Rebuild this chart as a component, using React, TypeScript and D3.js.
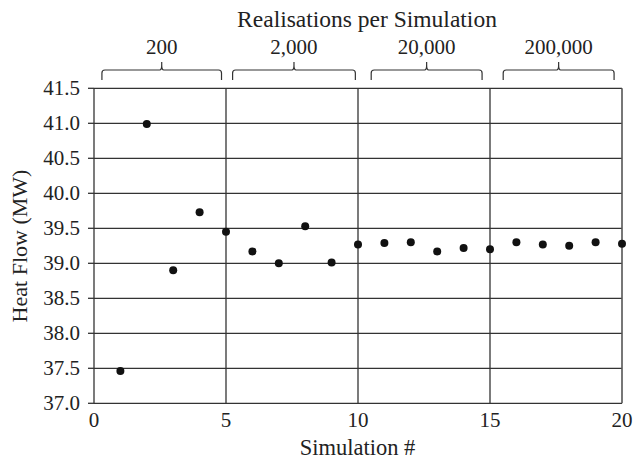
import React from "react";
import * as d3 from "d3";

const simulations = [1, 2, 3, 4, 5, 6, 7, 8, 9, 10, 11, 12, 13, 14, 15, 16, 17, 18, 19, 20];
const heatFlow = [37.46, 40.99, 38.9, 39.73, 39.45, 39.17, 39.0, 39.53, 39.01, 39.27, 39.29, 39.3, 39.17, 39.22, 39.2, 39.3, 39.27, 39.25, 39.3, 39.28];
const groupLabels = ["200", "2,000", "20,000", "200,000"];
const groupStart = [0.3, 5.25, 10.5, 15.5];
const groupEnd = [4.83, 9.9, 14.7, 19.7];
const xTicks = [0, 5, 10, 15, 20];
const yTicks = [37.0, 37.5, 38.0, 38.5, 39.0, 39.5, 40.0, 40.5, 41.0, 41.5];

const W = 635;
const H = 462;
const M = { left: 94, right: 13, top: 88.3, bottom: 58.7 };
const FONT = '"Liberation Serif"';

export default function App() {
  const x = d3.scaleLinear().domain([0, 20]).range([M.left, W - M.right]);
  const y = d3.scaleLinear().domain([37, 41.5]).range([H - M.bottom, M.top]);
  const lineColor = "#333";
  const ts = { fontFamily: FONT };

  const bracketPath = (a: number, b: number) => {
    const x0 = x(a);
    const x1 = x(b);
    const xm = (x0 + x1) / 2;
    const yl = 70;
    const yb = 80;
    const yt = 62;
    const r = 3;
    return (
      `M${x0},${yb} L${x0},${yl + r} Q${x0},${yl} ${x0 + r},${yl} ` +
      `L${xm - 2},${yl} Q${xm},${yl} ${xm},${yt + 3} L${xm},${yt} ` +
      `M${xm},${yt + 3} Q${xm},${yl} ${xm + 2},${yl} ` +
      `L${x1 - r},${yl} Q${x1},${yl} ${x1},${yl + r} L${x1},${yb}`
    );
  };

  return (
    <svg width={W} height={H} style={{ position: "absolute", left: 0, top: 0, background: "#fff" }}>
      {yTicks.map((t) => (
        <line key={"h" + t} x1={x(0)} x2={x(20)} y1={y(t)} y2={y(t)} stroke={lineColor} strokeWidth={1.3} />
      ))}
      {yTicks.map((t) => (
        <line key={"yt" + t} x1={x(0) - 6} x2={x(0)} y1={y(t)} y2={y(t)} stroke={lineColor} strokeWidth={1.3} />
      ))}
      {xTicks.map((t) => (
        <line key={"v" + t} x1={x(t)} x2={x(t)} y1={y(41.5)} y2={y(37)} stroke={t === 20 ? "#555" : lineColor} strokeWidth={t === 20 ? 1.6 : 1.3} />
      ))}
      {yTicks.map((t) => (
        <text key={"yl" + t} style={ts} x={80} y={y(t)} dy="0.33em" textAnchor="end" fontSize={21} fill="#222">
          {d3.format(".1f")(t)}
        </text>
      ))}
      {xTicks.map((t) => (
        <text key={"xl" + t} style={ts} x={x(t)} y={427} textAnchor="middle" fontSize={21} fill="#222">
          {t}
        </text>
      ))}
      {simulations.map((s, i) => (
        <circle key={"p" + s} cx={x(s)} cy={y(heatFlow[i])} r={4} fill="#111" />
      ))}
      <text style={ts} x={357.5} y={455} textAnchor="middle" fontSize={22.5} fill="#222">
        Simulation #
      </text>
      <text style={ts} transform={`translate(27,246) rotate(-90)`} textAnchor="middle" fontSize={22} fill="#222">
        Heat Flow (MW)
      </text>
      <text style={ts} x={367} y={27} textAnchor="middle" fontSize={23.5} fill="#222">
        Realisations per Simulation
      </text>
      {groupLabels.map((g, i) => (
        <g key={"g" + g}>
          <path d={bracketPath(groupStart[i], groupEnd[i])} fill="none" stroke="#333" strokeWidth={1.2} />
          <text style={ts} x={(x(groupStart[i]) + x(groupEnd[i])) / 2} y={54} textAnchor="middle" fontSize={21} fill="#222">
            {g}
          </text>
        </g>
      ))}
    </svg>
  );
}
